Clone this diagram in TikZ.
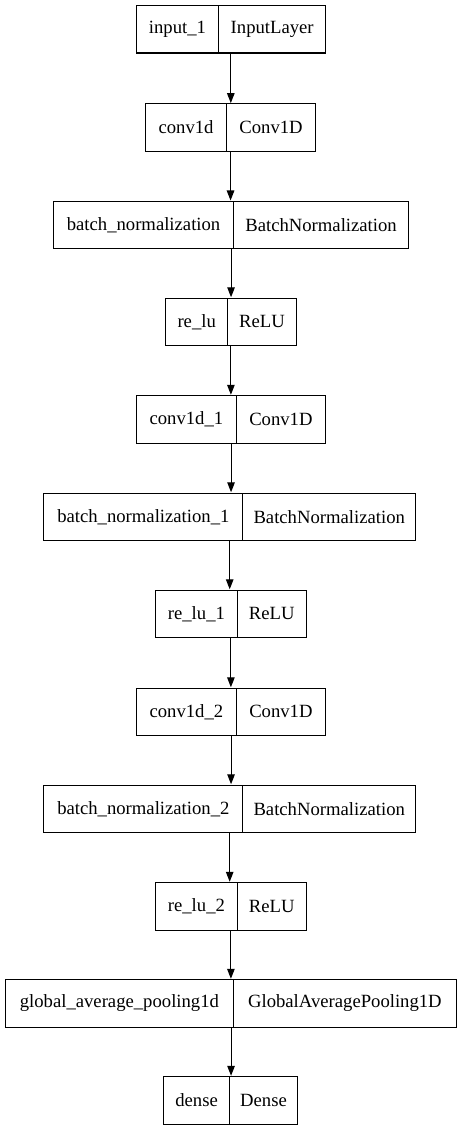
\documentclass[tikz,border=0pt]{standalone}
\usepackage{fontspec}
\setmainfont{Liberation Serif}
\usetikzlibrary{arrows.meta,fit}
\begin{document}
\begin{tikzpicture}[x=1pt,y=-1pt,
  cell/.style={draw=black, line width=1.1pt, rectangle, inner sep=0pt,
    minimum height=47.5pt, anchor=north west,
    font=\fontsize{18.67}{22}\selectfont},
  rec/.style={inner sep=0pt, draw=none},
  link/.style={line width=1.1pt, -{Triangle[length=10pt,width=7.5pt]}}]
\useasboundingbox (0,0) rectangle (461,1131);
% layer boxes: left x, divider x, right x, top y
\newcommand{\layerbox}[7]{%
  \node[cell, minimum width={#3-#2}] (a#1) at (#2,#5) {#6};
  \node[cell, minimum width={#4-#3}] (b#1) at (#3,#5) {#7};
  \node[rec, fit=(a#1)(b#1)] (r#1) {};
}
\layerbox{1}{135.5}{218.3}{325}{5}{input\_1}{InputLayer}
\layerbox{2}{145}{226}{315}{103.3}{conv1d}{Conv1D}
\layerbox{3}{53}{233}{408}{200.7}{batch\_normalization}{BatchNormalization}
\layerbox{4}{165}{227.3}{295.7}{297.5}{re\_lu}{ReLU}
\layerbox{5}{136}{235.7}{325}{395}{conv1d\_1}{Conv1D}
\layerbox{6}{43.3}{242.3}{415}{492.5}{batch\_normalization\_1}{BatchNormalization}
\layerbox{7}{155}{236.7}{305.7}{589.5}{re\_lu\_1}{ReLU}
\layerbox{8}{136}{235.7}{325}{687.5}{conv1d\_2}{Conv1D}
\layerbox{9}{43.3}{242.3}{415}{784.5}{batch\_normalization\_2}{BatchNormalization}
\layerbox{10}{155}{236.7}{305.7}{882}{re\_lu\_2}{ReLU}
\layerbox{11}{5}{232.7}{456}{979}{global\_average\_pooling1d}{GlobalAveragePooling1D}
\layerbox{12}{163}{229}{297}{1076}{dense}{Dense}
\foreach \i [evaluate=\i as \j using int(\i+1)] in {1,...,11}{
  \draw[link] (r\i.south) -- (r\i.south |- r\j.north);
}
\end{tikzpicture}
\end{document}
